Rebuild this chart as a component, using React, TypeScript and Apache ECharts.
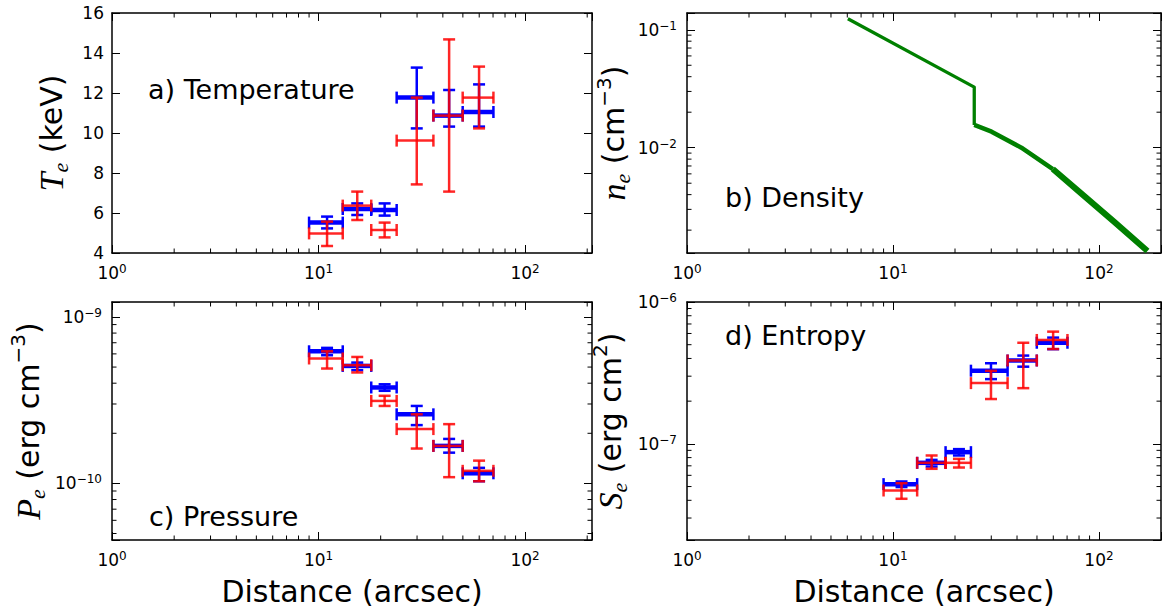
import React, { useEffect, useRef } from 'react';
import * as echarts from 'echarts';

// ---------- data ----------
const binCenters = [11.0, 15.4, 20.9, 29.9, 42.9, 59.9];
const binLow = [9.0, 13.1, 18.0, 23.9, 36.0, 49.9];
const binHigh = [13.1, 18.0, 23.9, 36.0, 49.9, 70.3];

const tempBlue = [5.52, 6.2, 6.15, 11.77, 10.87, 11.05];
const tempBlueLow = [5.23, 5.9, 5.87, 10.23, 10.32, 10.32];
const tempBlueHigh = [5.82, 6.48, 6.48, 13.27, 12.15, 12.43];
const tempRed = [4.98, 6.37, 5.15, 9.62, 10.87, 11.77];
const tempRedLow = [4.35, 5.65, 4.78, 7.43, 7.07, 10.23];
const tempRedHigh = [5.57, 7.07, 5.52, 11.77, 14.68, 13.32];

const presBlue = [6.22e-10, 5.08e-10, 3.77e-10, 2.6e-10, 1.68e-10, 1.15e-10];
const presBlueLow = [5.89e-10, 4.79e-10, 3.6e-10, 2.24e-10, 1.53e-10, 1.03e-10];
const presBlueHigh = [6.52e-10, 5.32e-10, 3.94e-10, 2.92e-10, 1.85e-10, 1.24e-10];
const presRed = [5.63e-10, 5.13e-10, 3.13e-10, 2.12e-10, 1.68e-10, 1.19e-10];
const presRedLow = [4.9e-10, 4.64e-10, 2.92e-10, 1.62e-10, 1.09e-10, 1.03e-10];
const presRedHigh = [6.22e-10, 5.75e-10, 3.36e-10, 2.6e-10, 2.27e-10, 1.37e-10];

const entBlue = [5.2e-8, 7.35e-8, 8.74e-8, 3.28e-7, 3.87e-7, 5.16e-7];
const entBlueLow = [4.96e-8, 6.92e-8, 8.28e-8, 2.86e-7, 3.5e-7, 4.65e-7];
const entBlueHigh = [5.43e-8, 7.71e-8, 9.18e-8, 3.7e-7, 4.19e-7, 5.61e-7];
const entRed = [4.69e-8, 7.35e-8, 7.35e-8, 2.68e-7, 3.87e-7, 5.4e-7];
const entRedLow = [4.1e-8, 6.67e-8, 6.81e-8, 2.07e-7, 2.47e-7, 4.66e-7];
const entRedHigh = [5.28e-8, 8.28e-8, 7.84e-8, 3.27e-7, 5.16e-7, 6.18e-7];

const densInnerX = [6.04, 24.8, 24.8];
const densInnerY = [0.124, 0.0326, 0.0156];
const densMidX = [24.8, 30.1, 42.0, 59.7];
const densMidY = [0.0156, 0.01368, 0.01, 0.00659];
const densOuterX = [59.7, 81.9, 118.6, 171.9];
const densOuterY = [0.00659, 0.0041, 0.00235, 0.00133];

const xMinorTicks = [2, 3, 4, 5, 6, 7, 8, 9, 20, 30, 40, 50, 60, 70, 80, 90, 200];
const densMinorTicks = [0.002, 0.003, 0.004, 0.005, 0.006, 0.007, 0.008, 0.009, 0.02, 0.03, 0.04, 0.05, 0.06, 0.07, 0.08, 0.09];
const presMinorTicks = [5e-11, 6e-11, 7e-11, 8e-11, 9e-11, 2e-10, 3e-10, 4e-10, 5e-10, 6e-10, 7e-10, 8e-10, 9e-10];
const entMinorTicks = [3e-8, 4e-8, 5e-8, 6e-8, 7e-8, 8e-8, 9e-8, 2e-7, 3e-7, 4e-7, 5e-7, 6e-7, 7e-7, 8e-7, 9e-7];

const panelLabels = ['a) Temperature', 'b) Density', 'c) Pressure', 'd) Entropy'];
const yTitles = [
  '{m|T}{sub|e}{t| (keV)}',
  '{m|n}{sub|e}{t| (cm}{sup|−3}{t|)}',
  '{m|P}{sub|e}{t| (erg cm}{sup|−3}{t|)}',
  '{m|S}{sub|e}{t| (erg cm}{sup|2}{t|)}',
];
const xTitle = 'Distance (arcsec)';

// ---------- layout ----------
const GRIDS = [
  { left: 112, top: 13, width: 480, height: 240 },
  { left: 687, top: 13, width: 476, height: 240 },
  { left: 112, top: 302, width: 480, height: 238 },
  { left: 687, top: 302, width: 476, height: 238 },
];
const X_MAX = [211, 200, 211, 200];
const Y_RANGE: [number, number][] = [[4, 16], [0.00128, 0.1387], [4.57e-11, 1.23e-9], [2.1e-8, 1e-6]];
const Y_NAME_GAP = [41, 52, 64, 57];
const LABEL_POS = [[148, 89], [725, 197], [149, 516], [725, 335]];

const FONT = 'DejaVu Sans';
const BLUE = '#0000ff';
const RED = '#ff0000';
const GREEN = '#008000';

function errRows(c: number[], lo: number[], hi: number[], y: number[], ylo: number[], yhi: number[]) {
  return c.map((x, i) => [x, lo[i], hi[i], y[i], ylo[i], yhi[i]]);
}

function errRender(color: string, hw: number, vw: number, cap: number, opacity: number) {
  return (params: any, api: any) => {
    const x = api.value(0), xl = api.value(1), xh = api.value(2);
    const y = api.value(3), yl = api.value(4), yh = api.value(5);
    const c = api.coord([x, y]);
    const pl = api.coord([xl, y])[0];
    const ph = api.coord([xh, y])[0];
    const qb = api.coord([x, yl])[1];
    const qt = api.coord([x, yh])[1];
    const st = (w: number) => ({ stroke: color, lineWidth: w, opacity });
    return {
      type: 'group',
      children: [
        { type: 'line', shape: { x1: pl, y1: c[1], x2: ph, y2: c[1] }, style: st(hw) },
        { type: 'line', shape: { x1: c[0], y1: qt, x2: c[0], y2: qb }, style: st(vw) },
        { type: 'line', shape: { x1: pl, y1: c[1] - cap, x2: pl, y2: c[1] + cap }, style: st(vw) },
        { type: 'line', shape: { x1: ph, y1: c[1] - cap, x2: ph, y2: c[1] + cap }, style: st(vw) },
        { type: 'line', shape: { x1: c[0] - cap, y1: qt, x2: c[0] + cap, y2: qt }, style: st(vw) },
        { type: 'line', shape: { x1: c[0] - cap, y1: qb, x2: c[0] + cap, y2: qb }, style: st(vw) },
      ],
    };
  };
}

const MINOR_LEN = 4.5;
const xMinorRender = (params: any, api: any) => {
  const cs = params.coordSys;
  const px = api.coord([api.value(0), api.value(1)])[0];
  const b = cs.y + cs.height, t = cs.y;
  const s = { stroke: '#000', lineWidth: 1 };
  return {
    type: 'group',
    children: [
      { type: 'line', shape: { x1: px, y1: b, x2: px, y2: b - MINOR_LEN }, style: s },
      { type: 'line', shape: { x1: px, y1: t, x2: px, y2: t + MINOR_LEN }, style: s },
    ],
  };
};
const yMinorRender = (params: any, api: any) => {
  const cs = params.coordSys;
  const py = api.coord([api.value(0), api.value(1)])[1];
  const l = cs.x, r = cs.x + cs.width;
  const s = { stroke: '#000', lineWidth: 1 };
  return {
    type: 'group',
    children: [
      { type: 'line', shape: { x1: l, y1: py, x2: l + MINOR_LEN, y2: py }, style: s },
      { type: 'line', shape: { x1: r, y1: py, x2: r - MINOR_LEN, y2: py }, style: s },
    ],
  };
};

const powRich = {
  b: { fontSize: 17, lineHeight: 20, fontFamily: FONT, color: '#000' },
  s: { fontSize: 12, lineHeight: 12, verticalAlign: 'top', fontFamily: FONT, color: '#000' },
};
const powLabel = (v: number) => {
  const e = Math.log10(v);
  const r = Math.round(e);
  if (Math.abs(e - r) > 1e-6) return '';
  return `{b|10}{s|${r < 0 ? '−' + -r : r}}`;
};

const nameRich = {
  m: { fontFamily: 'Liberation Serif', fontStyle: 'italic', fontSize: 34, lineHeight: 40, color: '#000' },
  sub: { fontFamily: 'Liberation Serif', fontStyle: 'italic', fontSize: 22, lineHeight: 22, verticalAlign: 'bottom', color: '#000' },
  t: { fontFamily: FONT, fontSize: 30, lineHeight: 40, color: '#000' },
  sup: { fontFamily: FONT, fontSize: 20, lineHeight: 20, verticalAlign: 'top', color: '#000' },
};

const axisLine = { show: true, onZero: false, lineStyle: { color: '#000', width: 1.5 } };
const majorTick = { show: true, inside: true, length: 8, lineStyle: { color: '#000', width: 1 } };

function buildOption() {
  const xAxis: any[] = [];
  const yAxis: any[] = [];
  const series: any[] = [];

  GRIDS.forEach((g, i) => {
    const bottomRow = i >= 2;
    xAxis.push({
      type: 'log', logBase: 10, gridIndex: i, min: 1, max: X_MAX[i], position: 'bottom',
      axisLine, axisTick: majorTick, splitLine: { show: false },
      axisLabel: { formatter: powLabel, rich: powRich, margin: 10, color: '#000' },
      name: bottomRow ? xTitle : '', nameLocation: 'middle', nameGap: 36,
      nameTextStyle: { fontFamily: FONT, fontSize: 30, color: '#000' },
    });
    xAxis.push({
      type: 'log', logBase: 10, gridIndex: i, min: 1, max: X_MAX[i], position: 'top',
      axisLine, axisTick: majorTick, splitLine: { show: false }, axisLabel: { show: false },
    });
    const isLog = i > 0;
    const yBase: any = isLog
      ? { type: 'log', logBase: 10, min: Y_RANGE[i][0], max: Y_RANGE[i][1] }
      : { type: 'value', min: 4, max: 16, interval: 2 };
    yAxis.push({
      ...yBase, gridIndex: i, position: 'left',
      axisLine, axisTick: majorTick, splitLine: { show: false },
      axisLabel: isLog
        ? { formatter: powLabel, rich: powRich, margin: 10, color: '#000' }
        : { fontSize: 17, fontFamily: FONT, color: '#000', margin: 8 },
      name: yTitles[i], nameLocation: 'middle', nameRotate: 90, nameGap: Y_NAME_GAP[i],
      nameTextStyle: { rich: nameRich },
    });
    yAxis.push({
      ...yBase, gridIndex: i, position: 'right',
      axisLine, axisTick: majorTick, splitLine: { show: false }, axisLabel: { show: false },
    });

    const xi = 2 * i, yi = 2 * i;
    const yRef = isLog ? Math.sqrt(Y_RANGE[i][0] * Y_RANGE[i][1]) : 10;
    series.push({
      type: 'custom', xAxisIndex: xi, yAxisIndex: yi, renderItem: xMinorRender, silent: true,
      encode: { x: 0, y: 1 }, z: 5,
      data: xMinorTicks.filter((v) => v < X_MAX[i]).map((v) => [v, yRef]),
    });
    if (isLog) {
      const minor = i === 1 ? densMinorTicks : i === 2 ? presMinorTicks : entMinorTicks;
      series.push({
        type: 'custom', xAxisIndex: xi, yAxisIndex: yi, renderItem: yMinorRender, silent: true,
        encode: { x: 0, y: 1 }, z: 5,
        data: minor.filter((v) => v > Y_RANGE[i][0] && v < Y_RANGE[i][1]).map((v) => [10, v]),
      });
    }
  });

  const addErr = (i: number, blue: any[], red: any[]) => {
    series.push({
      type: 'custom', xAxisIndex: 2 * i, yAxisIndex: 2 * i, renderItem: errRender(BLUE, 4.5, 2.5, 6, 1),
      encode: { x: 0, y: 3 }, data: blue, z: 3,
    });
    series.push({
      type: 'custom', xAxisIndex: 2 * i, yAxisIndex: 2 * i, renderItem: errRender(RED, 2.5, 2.5, 6, 0.85),
      encode: { x: 0, y: 3 }, data: red, z: 4,
    });
  };
  addErr(0, errRows(binCenters, binLow, binHigh, tempBlue, tempBlueLow, tempBlueHigh),
    errRows(binCenters, binLow, binHigh, tempRed, tempRedLow, tempRedHigh));
  addErr(2, errRows(binCenters, binLow, binHigh, presBlue, presBlueLow, presBlueHigh),
    errRows(binCenters, binLow, binHigh, presRed, presRedLow, presRedHigh));
  addErr(3, errRows(binCenters, binLow, binHigh, entBlue, entBlueLow, entBlueHigh),
    errRows(binCenters, binLow, binHigh, entRed, entRedLow, entRedHigh));

  const dens = (xs: number[], ys: number[], w: number) => ({
    type: 'line', xAxisIndex: 2, yAxisIndex: 2, showSymbol: false, symbol: 'none',
    data: xs.map((x, k) => [x, ys[k]]),
    lineStyle: { color: GREEN, width: w, join: 'round' }, z: 3,
  });
  series.push(dens(densInnerX, densInnerY, 3.3));
  series.push(dens(densMidX, densMidY, 4.5));
  series.push(dens(densOuterX, densOuterY, 6));

  return {
    animation: false,
    backgroundColor: '#fff',
    textStyle: { fontFamily: FONT },
    grid: GRIDS.map((g) => ({ ...g, containLabel: false })),
    xAxis,
    yAxis,
    series,
    graphic: panelLabels.map((t, i) => ({
      type: 'text', x: LABEL_POS[i][0], y: LABEL_POS[i][1], z: 10,
      style: { text: t, fontSize: 27, fontFamily: FONT, fill: '#000', align: 'left', verticalAlign: 'middle' },
    })),
  };
}

export default function App() {
  const ref = useRef<HTMLDivElement>(null);
  useEffect(() => {
    if (!ref.current) return;
    const chart = echarts.init(ref.current, undefined, { renderer: 'svg' });
    chart.setOption(buildOption() as any);
    return () => chart.dispose();
  }, []);
  return (
    <div
      ref={ref}
      style={{ position: 'fixed', left: 0, top: 0, width: 1164, height: 613, background: '#fff' }}
    />
  );
}
